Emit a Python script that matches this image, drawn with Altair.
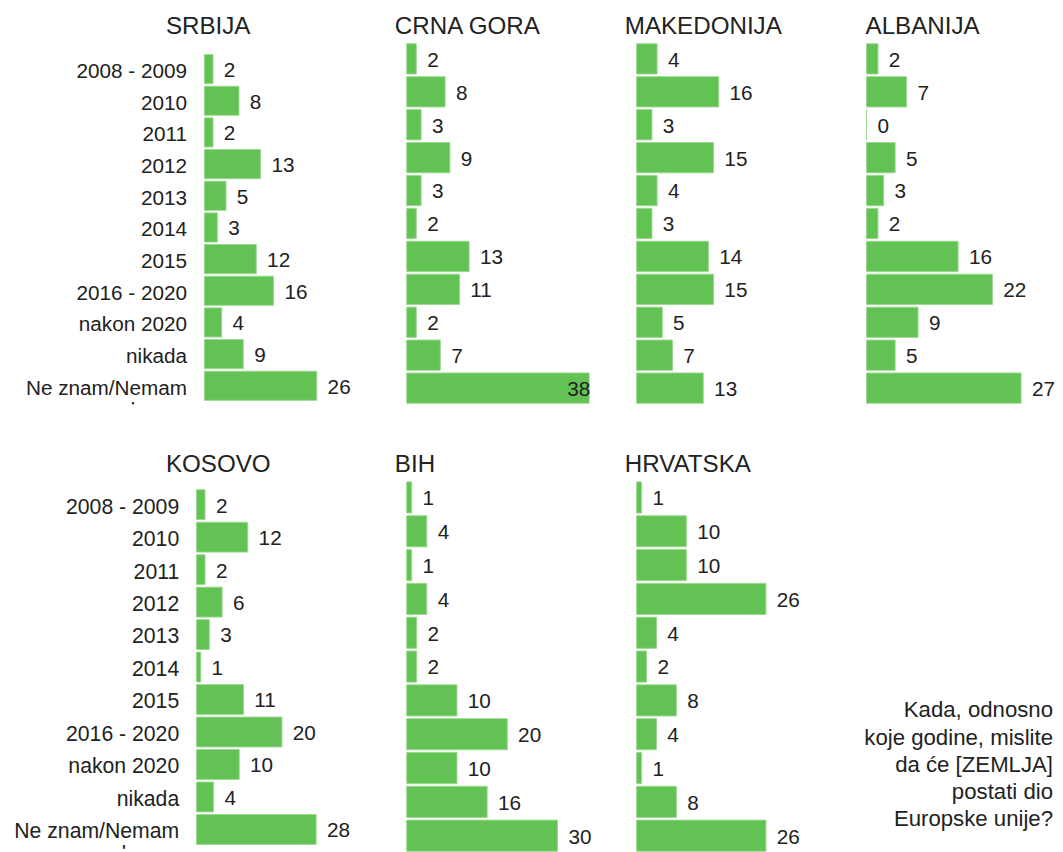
import altair as alt
import pandas as pd

CATEGORIES = ["2008 - 2009", "2010", "2011", "2012", "2013", "2014", "2015",
              "2016 - 2020", "nakon 2020", "nikada", "Ne znam/Nemam odgovor"]
SRBIJA = [2, 8, 2, 13, 5, 3, 12, 16, 4, 9, 26]
CRNA_GORA = [2, 8, 3, 9, 3, 2, 13, 11, 2, 7, 38]
MAKEDONIJA = [4, 16, 3, 15, 4, 3, 14, 15, 5, 7, 13]
ALBANIJA = [2, 7, 0, 5, 3, 2, 16, 22, 9, 5, 27]
KOSOVO = [2, 12, 2, 6, 3, 1, 11, 20, 10, 4, 28]
BIH = [1, 4, 1, 4, 2, 2, 10, 20, 10, 16, 30]
HRVATSKA = [1, 10, 10, 26, 4, 2, 8, 4, 1, 8, 26]
NOTE_LINES = ["Kada, odnosno", "koje godine, mislite", "da će [ZEMLJA]",
              "postati dio", "Europske unije?"]

FONT = "Liberation Sans"
TXT = "#222222"
GREEN = "#62c354"


def panel(name, values, width, height, xmax, title_dx, first=False,
          yrange=None, xrange=None, label_size=21, label_pad=18):
    df = pd.DataFrame({"kategorija": CATEGORIES, "vrijednost": values})
    df["unutra"] = df["vrijednost"] >= 0.97 * xmax
    yscale = dict(paddingInner=0.08, paddingOuter=0.04)
    if yrange:
        yscale["range"] = yrange
    xscale = dict(domain=[0, xmax], nice=False)
    if xrange:
        xscale["range"] = xrange
    if first:
        yaxis = alt.Axis(title=None, labelFont=FONT, labelFontSize=label_size,
                         labelColor=TXT, labelPadding=label_pad, ticks=False, tickSize=0,
                         domain=False, labelBaseline="alphabetic", labelOffset=9,
                         labelLimit=400, labelLineHeight=23,
                         labelExpr="split(replace(datum.label, 'Nemam ', 'Nemam|'), '|')")
    else:
        yaxis = None
    base = alt.Chart(df).encode(
        y=alt.Y("kategorija:N", sort=CATEGORIES, scale=alt.Scale(**yscale), axis=yaxis),
        x=alt.X("vrijednost:Q", scale=alt.Scale(**xscale), axis=None),
    )
    bars = base.mark_bar(color=GREEN, stroke="#9bd78f", strokeWidth=1)
    outside = base.transform_filter("!datum.unutra").mark_text(
        align="left", baseline="middle", dx=11, dy=2, font=FONT, fontSize=21, color=TXT
    ).encode(text="vrijednost:Q")
    inside = base.transform_filter("datum.unutra").mark_text(
        align="right", baseline="middle", dx=1, dy=2, font=FONT, fontSize=21, color=TXT
    ).encode(text="vrijednost:Q")
    layers = [bars, outside, inside]
    if first:
        mask_top = (yrange[1] if yrange else height) + 3
        mask = alt.Chart(pd.DataFrame({"m": [0]})).mark_rect(color="white").encode(
            x=alt.value(-178), x2=alt.value(-1),
            y=alt.value(mask_top), y2=alt.value(height + 30))
        layers.append(mask)
    return alt.layer(*layers).properties(
        width=width, height=height,
        title=alt.TitleParams(text=name, anchor="start", frame="group", dx=title_dx,
                              font=FONT, fontSize=24.5, fontWeight="normal",
                              color=TXT, offset=3))


srb = panel("SRBIJA", SRBIJA, 165, 367, 35.84, -31, first=True, yrange=[11, 364],
            xrange=[8, 165], label_pad=10)
cg = panel("CRNA GORA", CRNA_GORA, 185, 367, 38, -12)
mk = panel("MAKEDONIJA", MAKEDONIJA, 185, 367, 35.6, -12)
al = panel("ALBANIJA", ALBANIJA, 185, 367, 31.9, -1)

kos = panel("KOSOVO", KOSOVO, 165, 377, 38.1, -31, first=True, yrange=[8, 370],
            label_size=21.5)
bih = panel("BIH", BIH, 185, 377, 36.3, -12)
hrv = panel("HRVATSKA", HRVATSKA, 185, 377, 36.7, -12)

note = alt.Chart(pd.DataFrame({"n": [0]})).mark_text(
    text=NOTE_LINES, align="right", baseline="alphabetic", font=FONT,
    fontSize=22.5, lineHeight=27.5, color=TXT
).encode(x=alt.value(189), y=alt.value(240)).properties(width=189, height=377)

row1 = alt.hconcat(srb, cg, mk, al, spacing=48, bounds="flush")
row2 = alt.hconcat(kos, bih, hrv, note, spacing=48, bounds="flush")

chart = alt.vconcat(row1, row2, spacing=18).properties(
    padding={"left": 5, "top": 0, "right": 0, "bottom": 0}
).configure_view(stroke=None)

chart.save("out.html", embed_options={"renderer": "svg", "actions": False})
